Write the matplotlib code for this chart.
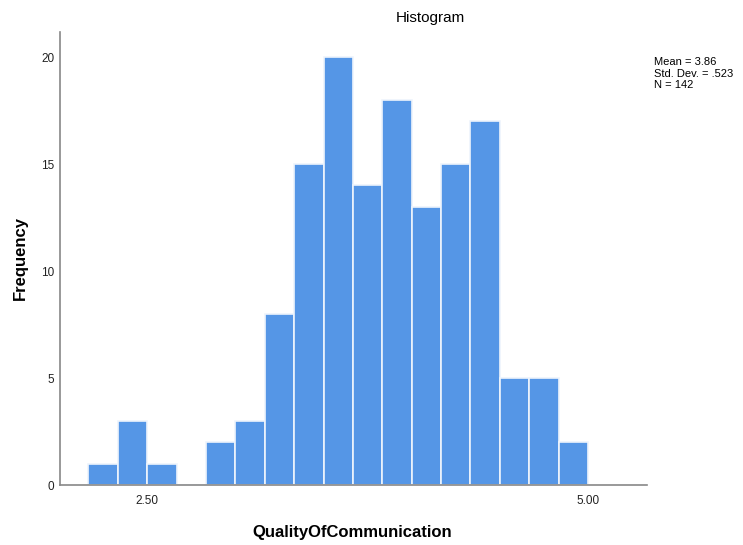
import matplotlib
matplotlib.use("Agg")
import matplotlib.pyplot as plt
import numpy as np

counts = [1, 3, 1, 0, 2, 3, 8, 15, 20, 14, 18, 13, 15, 17, 5, 5, 2]
bin_start = 13 / 6
bin_width = 1 / 6
x_ticks = [2.5, 5.0]
x_tick_labels = ["2.50", "5.00"]
y_ticks = [0, 5, 10, 15, 20]
stats = ["Mean = 3.86", "Std. Dev. = .523", "N = 142"]

edges = bin_start + bin_width * np.arange(len(counts) + 1)
centers = (edges[:-1] + edges[1:]) / 2

plt.rcParams['font.family'] = ['Liberation Sans', 'DejaVu Sans']

fig = plt.figure(figsize=(7.43, 5.45), dpi=100)
ax = fig.add_axes([60 / 743, 1 - 485 / 545, 587 / 743, 453 / 545])
ax.hist(centers, bins=edges, weights=counts, color='#5596E6',
        edgecolor='#eef4fc', linewidth=1.2)
ax.set_xlim(2.005, 5.335)
ax.set_ylim(0, 21.17)
ax.set_xticks(x_ticks)
ax.set_xticklabels(x_tick_labels)
ax.set_yticks(y_ticks)
ax.tick_params(length=0, labelsize=8.5, colors='#222222')
ax.tick_params(axis='y', pad=4)
ax.tick_params(axis='x', pad=7)
for s in ['top', 'right']:
    ax.spines[s].set_visible(False)
for s in ['left', 'bottom']:
    ax.spines[s].set_color('#888888')
    ax.spines[s].set_linewidth(1.2)

fig.text(430 / 743, 1 - 18 / 545, "Histogram", ha='center', va='center',
         fontsize=11)
fig.text(352 / 743, 1 - 532 / 545, "QualityOfCommunication", ha='center',
         va='center', fontsize=12, fontweight='bold')
fig.text(20 / 743, 1 - 258 / 545, "Frequency", ha='center', va='center',
         rotation=90, fontsize=12, fontweight='bold')
fig.text(654 / 743, 1 - 57 / 545, "\n".join(stats), ha='left', va='top',
         fontsize=8, linespacing=1.2)

fig.savefig("out.png", dpi=100)
